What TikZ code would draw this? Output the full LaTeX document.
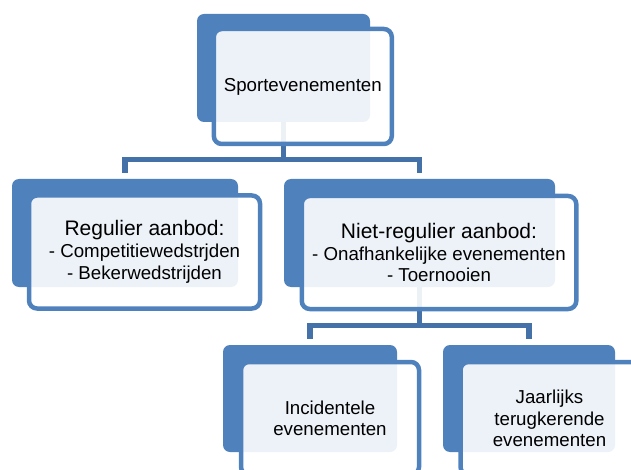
\documentclass[tikz,border=0pt]{standalone}
\usepackage{fontspec}
\setmainfont{Liberation Sans}
\usetikzlibrary{backgrounds}
\definecolor{accent}{HTML}{4F81BD}
\definecolor{conn}{HTML}{4571A9}
\begin{document}
\begin{tikzpicture}[x=1pt,y=-1pt,
  backbox/.style={draw=none, fill=accent, rounded corners=7pt, inner sep=0pt},
  frontbox/.style={draw=accent, line width=4.5pt, fill=white, fill opacity=0.9, text opacity=1,
    rounded corners=8pt, inner sep=0pt, align=center, text=black,
    font=\fontsize{18.7}{21.5}\selectfont},
  link/.style={draw=conn, line width=5.5pt}]
\useasboundingbox (0,0) rectangle (631,470);
\clip (0,0) rectangle (631,470);
% back boxes
\node[backbox, minimum width=173pt, minimum height=108pt] (b0) at (283.5,68) {};
\node[backbox, minimum width=226pt, minimum height=108pt] (b1) at (125,233) {};
\node[backbox, minimum width=271pt, minimum height=108pt] (b2) at (419.5,233) {};
\node[backbox, minimum width=174pt, minimum height=107pt] (b3) at (310,398.5) {};
\node[backbox, minimum width=172pt, minimum height=107pt] (b4) at (529,398.5) {};
\coordinate (h0) at (283.5,159.5);
\coordinate (h1) at (419.5,325.5);
% connectors
\begin{scope}[on background layer]
\draw[link] (b0.south) -- (b0.south |- h0) -| ([yshift=6pt]b1.north);
\draw[link] (b0.south |- h0) -| ([yshift=6pt]b2.north);
\draw[link] (b2.south) -- (b2.south |- h1) -| ([yshift=6pt]b3.north);
\draw[link] (b2.south |- h1) -| ([yshift=6pt]b4.north);
\end{scope}
% front boxes
\node[frontbox, minimum width=178pt, minimum height=115pt] (w0) at (302.8,86.5) {Sportevenementen};
\node[frontbox, minimum width=231pt, minimum height=113pt] (w1) at (144.5,252)
  {{\fontsize{21}{23}\selectfont Regulier aanbod:}\\[0.5pt]- Competitiewedstrjden\\- Bekerwedstrijden};
\node[frontbox, minimum width=274.5pt, minimum height=113pt] (w2) at (439,252.5)
  {{\fontsize{21}{23}\selectfont Niet-regulier aanbod:}\\[0.5pt]- Onafhankelijke evenementen\\- Toernooien};
\node[frontbox, minimum width=178pt, minimum height=113pt] (w3) at (330,418.5) {Incidentele\\evenementen};
\node[frontbox, minimum width=178pt, minimum height=113pt] (w4) at (549.5,418.5) {Jaarlijks\\terugkerende\\evenementen};
\end{tikzpicture}
\end{document}
